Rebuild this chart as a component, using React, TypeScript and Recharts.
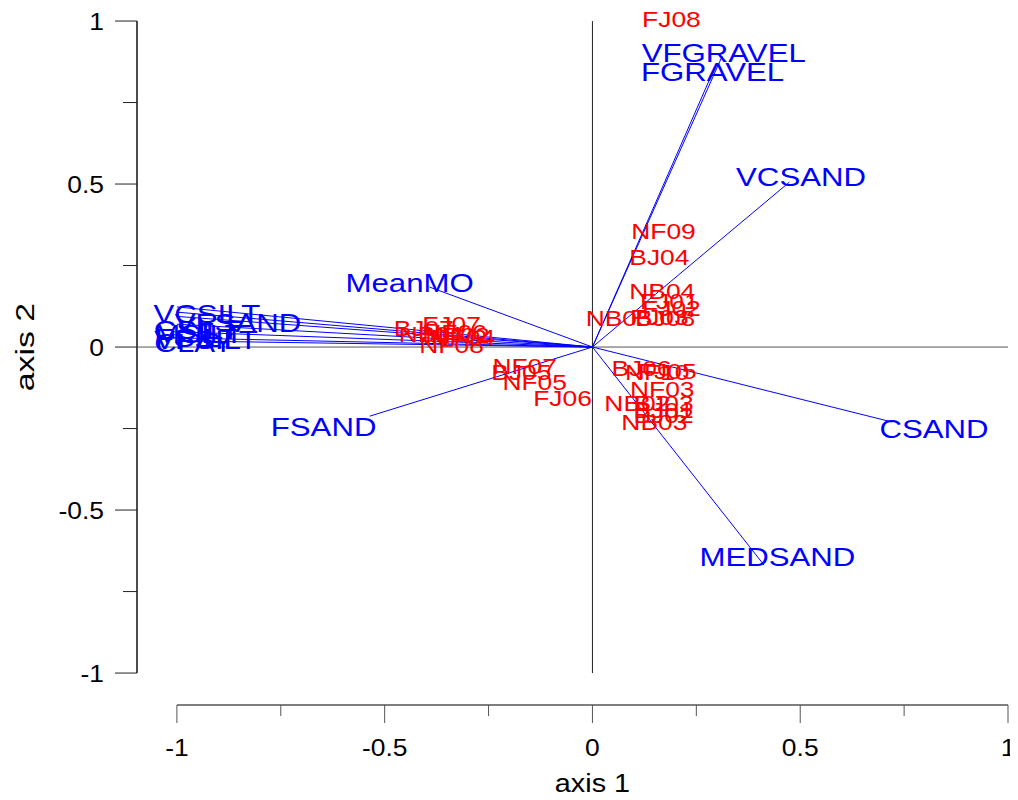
import React from 'react';
import { ScatterChart, Scatter, XAxis, YAxis, ReferenceLine } from 'recharts';

// ---- axis ticks ----
const axisTicks = [-1, -0.75, -0.5, -0.25, 0, 0.25, 0.5, 0.75, 1];
const majorTicks = [-1, -0.5, 0, 0.5, 1];
const xTitle = 'axis 1';
const yTitle = 'axis 2';

// ---- variable arrows (blue) ----
const varNames = ['VFGRAVEL', 'FGRAVEL', 'VCSAND', 'CSAND', 'MEDSAND', 'FSAND', 'MeanMO', 'VCSILT', 'VFSAND', 'CSILT', 'MSILT', 'FSILT', 'VFSILT', 'CLAY'];
const varArrowX = [0.3125, 0.298, 0.474, 0.721, 0.413, -0.536, -0.392, -1.0, -1.0, -1.0, -1.0, -1.0, -1.0, -1.0];
const varArrowY = [0.893, 0.868, 0.506, -0.23, -0.669, -0.212, 0.184, 0.123, 0.107, 0.094, 0.07, 0.047, 0.028, 0.019];
const varLabelX = [0.316, 0.289, 0.502, 0.822, 0.445, -0.647, -0.44, -0.928, -0.853, -0.952, -0.947, -0.954, -0.93, -0.959];
const varLabelY = [0.902, 0.844, 0.521, -0.252, -0.644, -0.245, 0.196, 0.101, 0.074, 0.052, 0.04, 0.028, 0.021, 0.012];

// ---- site scores (red) ----
const siteNames = ['FJ08', 'NF09', 'BJ04', 'NB04', 'FJ01', 'FJ02', 'NB05', 'FJ03', 'BJ08',
  'BJ06', 'NF10', 'FJ05', 'NF03', 'NB02', 'BJ03', 'BJ01', 'BJ02', 'NB03',
  'NF07', 'BJ05', 'NF05', 'FJ06',
  'BJ07', 'FJ07', 'NB01', 'NF06', 'NF02', 'NF04', 'NF08'];
const siteX = [0.19, 0.171, 0.161, 0.168, 0.185, 0.19, 0.063, 0.161, 0.175,
  0.118, 0.156, 0.18, 0.168, 0.108, 0.171, 0.171, 0.171, 0.149,
  -0.163, -0.171, -0.139, -0.072,
  -0.406, -0.339, -0.387, -0.332, -0.325, -0.312, -0.339];
const siteY = [1.006, 0.356, 0.276, 0.172, 0.141, 0.12, 0.089, 0.092, 0.089,
  -0.064, -0.077, -0.074, -0.129, -0.172, -0.172, -0.193, -0.209, -0.23,
  -0.058, -0.077, -0.107, -0.156,
  0.058, 0.071, 0.04, 0.046, 0.037, 0.031, 0.006];

const X_MIN = -1.096;
const X_MAX = 1;
const Y_MIN = -1.098;
const Y_MAX = 1.04;

const FONT = "'Liberation Sans', Arial, sans-serif";
const BLUE = '#0000ff';
const RED = '#ff0000';

const varLabelData = varNames.map((n, i) => ({ x: varLabelX[i], y: varLabelY[i], name: n }));
const siteData = siteNames.map((n, i) => ({ x: siteX[i], y: siteY[i], name: n }));

const isMajor = (v: number) => majorTicks.some((m) => Math.abs(m - v) < 1e-9);

const XTick = (props: any) => {
  const { x, y, payload } = props;
  const v = payload.value as number;
  const major = isMajor(v);
  return (
    <g>
      <line x1={x} x2={x} y1={y} y2={y + (major ? 18 : 11)} stroke="#555" strokeWidth={1} />
      {major && (
        <text transform={`translate(${x},${y + 42}) scale(1.15,1.05)`} textAnchor="middle" dominantBaseline="central" fontSize={23} fontFamily={FONT} fill="#000">
          {String(v)}
        </text>
      )}
      {v === 0 && (
        <text transform={`translate(${x},${y + 79}) scale(1.2,1.05)`} textAnchor="middle" dominantBaseline="central" fontSize={24} fontFamily={FONT} fill="#000">
          {xTitle}
        </text>
      )}
    </g>
  );
};

const YTick = (props: any) => {
  const { x, y, payload } = props;
  const v = payload.value as number;
  const major = isMajor(v);
  return (
    <g>
      <line x1={x - (major ? 22 : 14)} x2={x} y1={y} y2={y} stroke="#222" strokeWidth={1} />
      {major && (
        <text transform={`translate(${x - 33},${y}) scale(1.15,1.05)`} textAnchor="end" dominantBaseline="central" fontSize={23} fontFamily={FONT} fill="#000">
          {String(v)}
        </text>
      )}
      {v === 0 && (
        <text transform={`translate(${x - 112},${y}) rotate(-90) scale(1.3,1)`} textAnchor="middle" dominantBaseline="central" fontSize={26} fontFamily={FONT} fill="#000">
          {yTitle}
        </text>
      )}
    </g>
  );
};

const VarLabel = (props: any) => {
  const { cx, cy, payload } = props;
  return (
    <text transform={`translate(${cx},${cy}) scale(1.2,1)`} textAnchor="middle" dominantBaseline="central" fontSize={26} fontFamily={FONT} fill={BLUE}>
      {payload.name}
    </text>
  );
};

const SiteLabel = (props: any) => {
  const { cx, cy, payload } = props;
  return (
    <text transform={`translate(${cx},${cy}) scale(1.2,1)`} textAnchor="middle" dominantBaseline="central" fontSize={22} fontFamily={FONT} fill={RED}>
      {payload.name}
    </text>
  );
};

export default function App() {
  return (
    <div style={{ width: 1010, height: 792 }}>
      <ScatterChart width={1010} height={792} margin={{ top: 0, right: 10, left: 0, bottom: 0 }}>
        <XAxis
          type="number"
          dataKey="x"
          domain={[X_MIN, X_MAX]}
          allowDataOverflow
          ticks={axisTicks}
          interval={0}
          height={95}
          tickSize={0}
          tickMargin={0}
          axisLine={false}
          tickLine={false}
          tick={<XTick />}
        />
        <YAxis
          type="number"
          dataKey="y"
          domain={[Y_MIN, Y_MAX]}
          allowDataOverflow
          ticks={axisTicks}
          interval={0}
          width={129}
          tickSize={0}
          tickMargin={0}
          axisLine={false}
          tickLine={false}
          tick={<YTick />}
        />
        {/* axis lines */}
        <ReferenceLine segment={[{ x: -1, y: Y_MIN }, { x: 1, y: Y_MIN }]} stroke="#555" strokeWidth={1.5} ifOverflow="visible" />
        <ReferenceLine segment={[{ x: X_MIN, y: -1 }, { x: X_MIN, y: 1 }]} stroke="#111" strokeWidth={1.5} ifOverflow="visible" />
        {/* cross hairs */}
        <ReferenceLine segment={[{ x: 0, y: -1 }, { x: 0, y: 1 }]} stroke="#222" strokeWidth={1} ifOverflow="visible" />
        <ReferenceLine segment={[{ x: X_MIN, y: 0 }, { x: X_MAX, y: 0 }]} stroke="#555" strokeWidth={1} ifOverflow="visible" />
        {/* arrows */}
        {varNames.map((n, i) => (
          <ReferenceLine
            key={n}
            segment={[{ x: 0, y: 0 }, { x: varArrowX[i], y: varArrowY[i] }]}
            stroke={BLUE}
            strokeWidth={1}
            ifOverflow="visible"
          />
        ))}
        <Scatter data={varLabelData} shape={<VarLabel />} isAnimationActive={false} />
        <Scatter data={siteData} shape={<SiteLabel />} isAnimationActive={false} />
      </ScatterChart>
    </div>
  );
}
